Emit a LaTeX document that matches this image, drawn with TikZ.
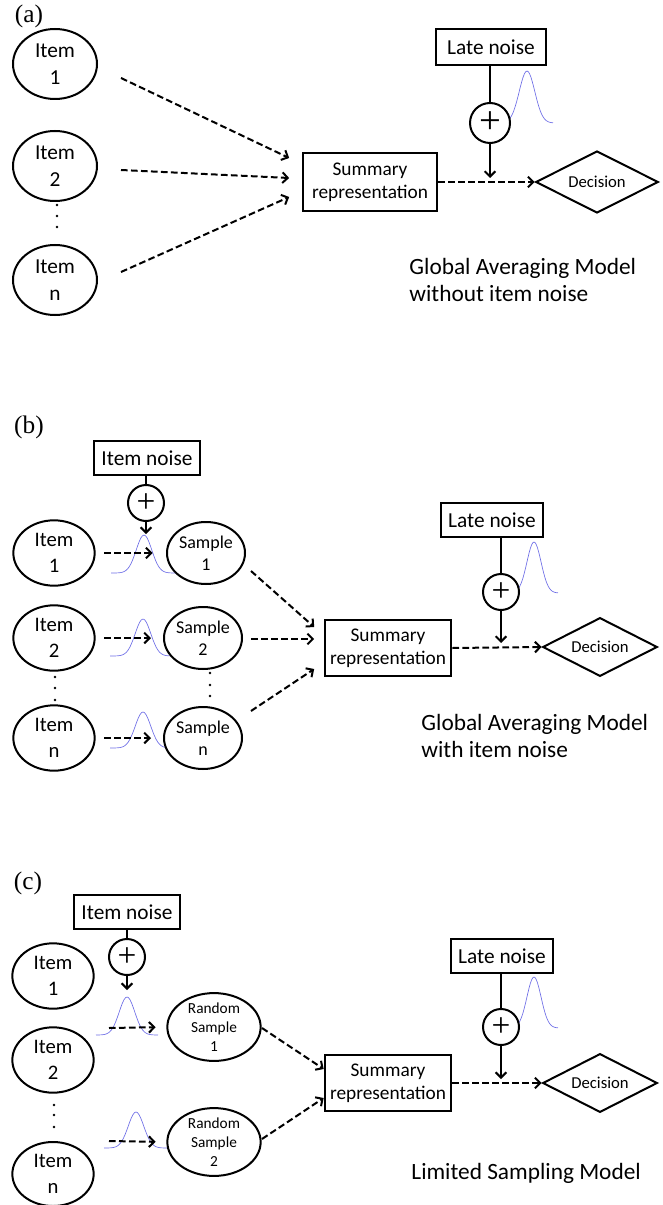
\documentclass[tikz,border=0pt]{standalone}
\usepackage{fontspec}
\setmainfont{Carlito}
\newfontfamily\labfont{Liberation Serif}
\usetikzlibrary{shapes.geometric,arrows.meta,calc}

\tikzset{every picture/.style={line width=1.5pt}}
\tikzset{
  itemnode/.style={draw, ellipse, fill=white, inner sep=0pt, align=center, font=\fontsize{15.5}{19}\selectfont},
  samplenode/.style={draw, ellipse, fill=white, inner sep=0pt, align=center, font=\fontsize{13.5}{16.5}\selectfont},
  randnode/.style={draw, ellipse, fill=white, inner sep=0pt, align=center, font=\fontsize{11.5}{14}\selectfont},
  noisebox/.style={draw, rectangle, fill=white, inner sep=0pt, font=\fontsize{16}{18}\selectfont},
  sumbox/.style={draw, rectangle, fill=white, inner sep=0pt, align=center, font=\fontsize{14.5}{17.5}\selectfont},
  decnode/.style={draw, diamond, aspect=2, inner sep=0pt, font=\fontsize{12.5}{14}\selectfont},
  plusnode/.style={draw, circle, fill=white, inner sep=0pt, font=\labfont\fontsize{25}{25}\selectfont},
  dasharrow/.style={dash pattern=on 5pt off 2.5pt, -{Straight Barb[length=4pt,width=8pt]}},
  solidarrow/.style={-{Straight Barb[length=4pt,width=8pt]}},
  gausscurve/.style={color={rgb, 255:red, 110; green, 110; blue, 230}, line width=0.5pt},
  panellab/.style={font=\labfont\fontsize{19}{22}\selectfont},
  captext/.style={anchor=west, align=left, font=\fontsize{17.5}{20}\selectfont}
}

\begin{document}
\begin{tikzpicture}[x=0.75pt,y=0.75pt,yscale=-1,xscale=1]
\useasboundingbox (0,0) rectangle (662,1205);

% (a)
\draw [gausscurve] plot [domain=-26:26, samples=41] ({527+\x},{123-52*exp(-((\x/11)^2))});

\node (labA) at (29,16) [panellab] {(a)};
\node (itemA1) at (55,64) [itemnode, minimum width=63pt, minimum height=52.5pt, font=\fontsize{16}{20}\selectfont] {Item\\1};
\node (itemA2) at (55,166) [itemnode, minimum width=63pt, minimum height=52.5pt, font=\fontsize{16}{20}\selectfont] {Item\\2};
\node (itemAn) at (55,280) [itemnode, minimum width=63pt, minimum height=52.5pt, font=\fontsize{16}{20}\selectfont] {Item\\n};
\fill (57,205) circle (1.1pt);
\fill (57,216) circle (1.1pt);
\fill (57,227) circle (1.1pt);
\node (sumA) at (370,182) [sumbox, minimum width=101pt, minimum height=44pt] {Summary\\representation};
\node (decA) at (597,182) [decnode, minimum width=92pt, minimum height=46.5pt] {Decision};
\node (lateA) at (491,47) [noisebox, minimum width=82.5pt, minimum height=27pt] {Late noise};
\node (plusA) at (490,123) [plusnode, minimum size=30pt, font=\labfont\fontsize{29}{29}\selectfont] {+};
\node (capA) at (404,280) [captext] {Global Averaging Model\\without item noise};

\draw [dasharrow] ($(itemA1)+(66,14)$) -- ($(sumA.west)+(-12.5,-24)$);
\draw [dasharrow] ($(itemA2)+(66,4)$) -- ($(sumA.west)+(-12.5,-4)$);
\draw [dasharrow] ($(itemAn)+(66,-8)$) -- ($(sumA.west)+(-12.5,15)$);
\draw (lateA.south -| plusA) -- (plusA.north);
\draw [solidarrow] (plusA.south) -- ($(plusA |- sumA)+(0,-4)$);
\draw [dasharrow] (sumA.east) -- (decA.west);

% (b)
\draw [gausscurve] plot [domain=-33:33, samples=41] ({144+\x},{573-38*exp(-((\x/11)^2))});
\draw [gausscurve] plot [domain=-33:33, samples=41] ({143+\x},{656-37*exp(-((\x/11)^2))});
\draw [gausscurve] plot [domain=-33:33, samples=41] ({143+\x},{748-36*exp(-((\x/11)^2))});
\draw [gausscurve] plot [domain=-24:24, samples=41] ({534+\x},{593-51*exp(-((\x/10)^2))});

\node (labB) at (29,427) [panellab] {(b)};
\node (noiseB) at (147,458) [noisebox, minimum width=80pt, minimum height=25pt] {Item noise};
\node (plusB) at (146,503) [plusnode, minimum size=27pt] {+};
\node (itemB1) at (54,553) [itemnode, minimum width=61pt, minimum height=49pt] {Item\\1};
\node (itemB2) at (54,638) [itemnode, minimum width=61pt, minimum height=49pt] {Item\\2};
\node (itemBn) at (54,738) [itemnode, minimum width=61pt, minimum height=49pt] {Item\\n};
\fill (55,677) circle (1.1pt);
\fill (55,688) circle (1.1pt);
\fill (55,700) circle (1.1pt);
\node (sampB1) at (206,553) [samplenode, minimum width=58.5pt, minimum height=46.5pt] {Sample\\1};
\node (sampB2) at (203,638) [samplenode, minimum width=58.5pt, minimum height=46.5pt] {Sample\\2};
\node (sampBn) at (203,738) [samplenode, minimum width=58.5pt, minimum height=46.5pt] {Sample\\n};
\fill (210,673) circle (1.1pt);
\fill (210,685) circle (1.1pt);
\fill (210,696) circle (1.1pt);
\node (sumB) at (388,648) [sumbox, minimum width=95pt, minimum height=42pt] {Summary\\representation};
\node (decB) at (600,647) [decnode, minimum width=86pt, minimum height=44pt] {Decision};
\node (lateB) at (492,520) [noisebox, minimum width=77pt, minimum height=25pt] {Late noise};
\node (plusB2) at (501,592) [plusnode, minimum size=27pt] {+};
\node (capB) at (416,736) [captext] {Global Averaging Model\\with item noise};
\coordinate (tipB) at (146,534);

\draw (noiseB.south -| plusB) -- (plusB.north);
\draw [solidarrow] (plusB.south) -- (tipB);
\draw [dasharrow, shorten <=6.5pt, shorten >=10pt] (itemB1.east) -- (sampB1.west);
\draw [dasharrow, shorten <=6.5pt, shorten >=9pt] (itemB2.east) -- (sampB2.west);
\draw [dasharrow, shorten <=6.5pt, shorten >=9pt] (itemBn.east) -- (sampBn.west);
\draw [dasharrow] ($(sampB1)+(45,18)$) -- ($(sumB.west)+(-9.5,-21)$);
\draw [dasharrow] ($(sampB2)+(48,1)$) -- ($(sumB.west)+(-9.5,-9)$);
\draw [dasharrow] ($(sampBn)+(48,-27)$) -- ($(sumB.west)+(-9.5,21)$);
\draw (lateB.south -| plusB2) -- (plusB2.north);
\draw [solidarrow] (plusB2.south) -- ($(plusB2 |- sumB)+(0,-5)$);
\draw [dasharrow] (sumB.east) -- (decB.west);

% (c)
\draw [gausscurve] plot [domain=-31:31, samples=41] ({127+\x},{1035-38*exp(-((\x/11)^2))});
\draw [gausscurve] plot [domain=-32:32, samples=41] ({136+\x},{1148-36*exp(-((\x/11)^2))});
\draw [gausscurve] plot [domain=-24:24, samples=41] ({534+\x},{1028-51*exp(-((\x/10)^2))});

\node (labC) at (28,883) [panellab] {(c)};
\node (noiseC) at (127,912) [noisebox, minimum width=80pt, minimum height=25.5pt] {Item noise};
\node (plusC) at (127,957) [plusnode, minimum size=27pt] {+};
\node (itemC1) at (53,976) [itemnode, minimum width=61pt, minimum height=49pt] {Item\\1};
\node (itemC2) at (53,1060) [itemnode, minimum width=61pt, minimum height=49pt] {Item\\2};
\node (itemCn) at (53,1174) [itemnode, minimum width=61pt, minimum height=48pt] {Item\\n};
\fill (54,1105) circle (1.1pt);
\fill (54,1115) circle (1.1pt);
\fill (54,1127) circle (1.1pt);
\node (rsC1) at (214,1027) [randnode, minimum width=70pt, minimum height=49pt] {Random\\Sample\\1};
\node (rsC2) at (214,1142) [randnode, minimum width=70pt, minimum height=49pt] {Random\\Sample\\2};
\node (sumC) at (388,1083) [sumbox, minimum width=95pt, minimum height=41.5pt] {Summary\\representation};
\node (decC) at (600,1083) [decnode, minimum width=86pt, minimum height=44pt] {Decision};
\node (lateC) at (502,956) [noisebox, minimum width=77pt, minimum height=25pt] {Late noise};
\node (plusC2) at (501,1027) [plusnode, minimum size=27pt] {+};
\node (capC) at (406,1173) [captext] {Limited Sampling Model};
\coordinate (tipC) at (127,990);
\coordinate (inC1) at (109,1028);
\coordinate (inC2) at (109,1141);

\draw (noiseC.south -| plusC) -- (plusC.north);
\draw [solidarrow] (plusC.south) -- (tipC);
\draw [dasharrow, shorten >=8pt] (inC1) -- (rsC1.west);
\draw [dasharrow, shorten >=8pt] (inC2) -- (rsC2.west);
\draw [dasharrow] ($(rsC1)+(48,1)$) -- ($(sumC.west)+(0,-14)$);
\draw [dasharrow] ($(rsC2)+(48,-3)$) -- ($(sumC.west)+(0,15)$);
\draw (lateC.south -| plusC2) -- (plusC2.north);
\draw [solidarrow] (plusC2.south) -- ($(plusC2 |- sumC)+(0,-4)$);
\draw [dasharrow] (sumC.east) -- (decC.west);

\end{tikzpicture}
\end{document}
